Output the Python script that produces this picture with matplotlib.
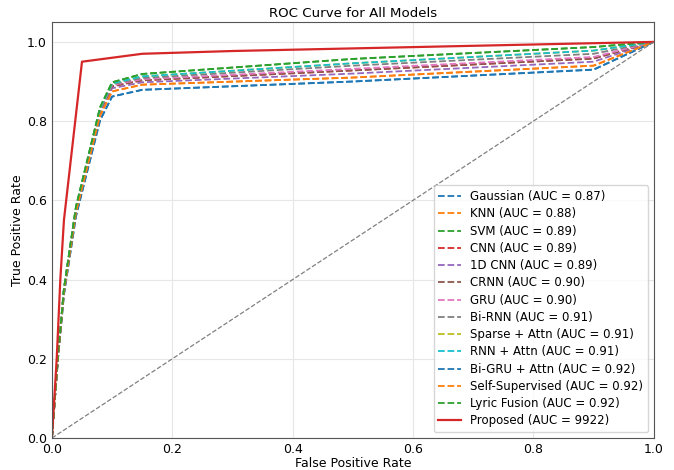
#ROC curves for all models
import numpy as np
import matplotlib
matplotlib.use('Agg')
import matplotlib.pyplot as plt

#labels in legend order
names=['Gaussian','KNN','SVM','CNN','1D CNN','CRNN','GRU','Bi-RNN',
	'Sparse + Attn','RNN + Attn','Bi-GRU + Attn','Self-Supervised','Lyric Fusion']
aucs=['0.87','0.88','0.89','0.89','0.89','0.90','0.90','0.91',
	'0.91','0.91','0.92','0.92','0.92']

#shared fpr grid of the baseline curves
fpr=[0,0.01,0.02,0.04,0.06,0.08,0.1,0.15,0.5,0.9,1.0]

#tpr, one list per model
tprGaussian=[0,0.198,0.362,0.560,0.681,0.802,0.862,0.879,0.900,0.930,1.0]
tprKNN=[0,0.201,0.368,0.569,0.691,0.814,0.875,0.892,0.910,0.940,1.0]
tprSVM=[0,0.207,0.377,0.584,0.709,0.835,0.898,0.919,0.957,0.987,1.0]
tprCNN=[0,0.204,0.373,0.577,0.702,0.826,0.888,0.903,0.928,0.958,1.0]
tpr1DCNN=[0,0.203,0.371,0.574,0.698,0.821,0.883,0.898,0.920,0.950,1.0]
tprCRNN=[0,0.204,0.373,0.577,0.702,0.826,0.888,0.903,0.928,0.958,1.0]
tprGRU=[0,0.205,0.374,0.579,0.704,0.829,0.891,0.906,0.932,0.962,1.0]
tprBiRNN=[0,0.205,0.375,0.580,0.705,0.830,0.893,0.909,0.940,0.970,1.0]
tprSparse=[0,0.206,0.376,0.582,0.707,0.832,0.895,0.913,0.946,0.978,1.0]
tprRNNAttn=[0,0.206,0.376,0.582,0.707,0.832,0.895,0.913,0.946,0.978,1.0]
tprBiGRU=[0,0.198,0.362,0.560,0.681,0.802,0.862,0.879,0.900,0.930,1.0]
tprSelfSup=[0,0.201,0.368,0.569,0.691,0.814,0.875,0.892,0.910,0.940,1.0]
tprLyric=[0,0.207,0.377,0.584,0.709,0.835,0.898,0.919,0.957,0.987,1.0]

tprs=[tprGaussian,tprKNN,tprSVM,tprCNN,tpr1DCNN,tprCRNN,tprGRU,tprBiRNN,
	tprSparse,tprRNNAttn,tprBiGRU,tprSelfSup,tprLyric]

#proposed model
fprProposed=[0,0.008,0.014,0.02,0.05,0.15,0.3,1.0]
tprProposed=[0,0.2,0.4,0.55,0.95,0.97,0.977,1.0]
aucProposed='9922'

fig=plt.figure(figsize=(6.74,4.70),dpi=100)
ax=fig.add_axes([0.077,0.068,0.893,0.885])

for i in range(len(names)):
	ax.plot(fpr,tprs[i],'--',lw=1.3,label='%s (AUC = %s)'%(names[i],aucs[i]))
ax.plot(fprProposed,tprProposed,'-',lw=1.6,label='Proposed (AUC = %s)'%aucProposed)
ax.plot([0,1],[0,1],'--',color='gray',lw=0.9)

ax.set_xlim(0,1)
ax.set_ylim(0,1.05)
ax.set_xticks(np.arange(0,1.01,0.2))
ax.set_yticks(np.arange(0,1.01,0.2))
ax.tick_params(labelsize=9,length=0,pad=3.5)
ax.grid(True,color='#e6e6e6',lw=0.8)
ax.set_axisbelow(True)
for s in ax.spines.values():
	s.set_color('#555555')
ax.set_xlabel('False Positive Rate',fontsize=9,labelpad=1)
ax.set_ylabel('True Positive Rate',fontsize=9,labelpad=2)
ax.set_title('ROC Curve for All Models',fontsize=9.6,pad=4)
ax.legend(loc='lower right',fontsize=8.5,handlelength=1.9,labelspacing=0.36,framealpha=0.8)

fig.savefig('out.png',dpi=100)
